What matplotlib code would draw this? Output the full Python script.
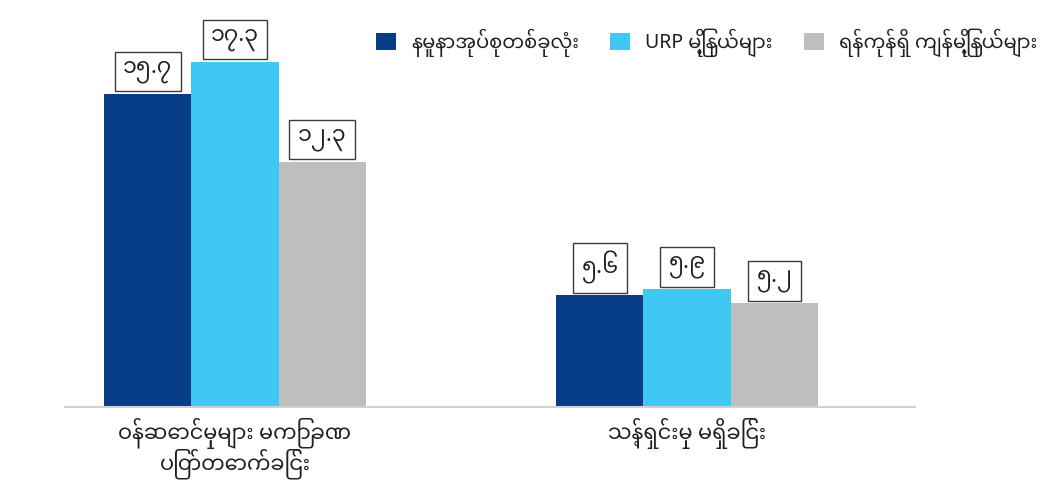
import matplotlib
matplotlib.use('Agg')
import matplotlib.pyplot as plt
import numpy as np

plt.rcParams['font.family'] = ['Noto Sans', 'Noto Sans Myanmar', 'DejaVu Sans']

categories = ['ဝန်ဆောင်မှုများ မကြာခဏ\nပြတ်တောက်ခြင်း', 'သန့်ရှင်းမှု မရှိခြင်း']
series_names = ['နမူနာအုပ်စုတစ်ခုလုံး', 'URP မြို့နယ်များ', 'ရန်ကုန်ရှိ ကျန်မြို့နယ်များ']
values = [
    [15.7, 5.6],
    [17.3, 5.9],
    [12.3, 5.2],
]
value_labels = [
    ['၁၅.၇', '၅.၆'],
    ['၁၇.၃', '၅.၉'],
    ['၁၂.၃', '၅.၂'],
]
colors = ['#073c87', '#40c8f4', '#bcbec0']

fig = plt.figure(figsize=(10.49, 4.84), dpi=100)
ax = fig.add_axes([0.062, 0.159, 0.810, 0.841])

x = np.arange(len(categories))
width = 0.193
for i, (vals, name, col) in enumerate(zip(values, series_names, colors)):
    pos = x + (i - 1) * width
    ax.bar(pos, vals, width=width, color=col, label=name)
    for px, v, lab in zip(pos, vals, value_labels[i]):
        ax.annotate(lab, (px, v), xytext=(0, 8), textcoords='offset points',
                    ha='center', va='bottom', fontsize=16, color='#231f20',
                    bbox=dict(boxstyle='square,pad=0.38', fc='white', ec='#3a3a3a', lw=1))

ax.set_xlim(-0.376, 1.504)
ax.set_ylim(0, 20.4)
for s in ['top', 'right', 'left']:
    ax.spines[s].set_visible(False)
ax.spines['bottom'].set_color('#d0d0d0')
ax.spines['bottom'].set_linewidth(1.5)
ax.set_yticks([])
ax.set_xticks(x)
ax.set_xticklabels(categories, fontsize=15, color='#231f20', linespacing=0.95)
ax.tick_params(axis='x', length=0, pad=8)

leg = fig.legend(loc='center right', bbox_to_anchor=(1.0, 1 - 43 / 484),
                 ncol=3, frameon=False, fontsize=14, handlelength=1.0, handleheight=1.0,
                 columnspacing=1.6, handletextpad=0.8, borderaxespad=0.2)
for t in leg.get_texts():
    t.set_color('#231f20')

fig.savefig('out.png')
